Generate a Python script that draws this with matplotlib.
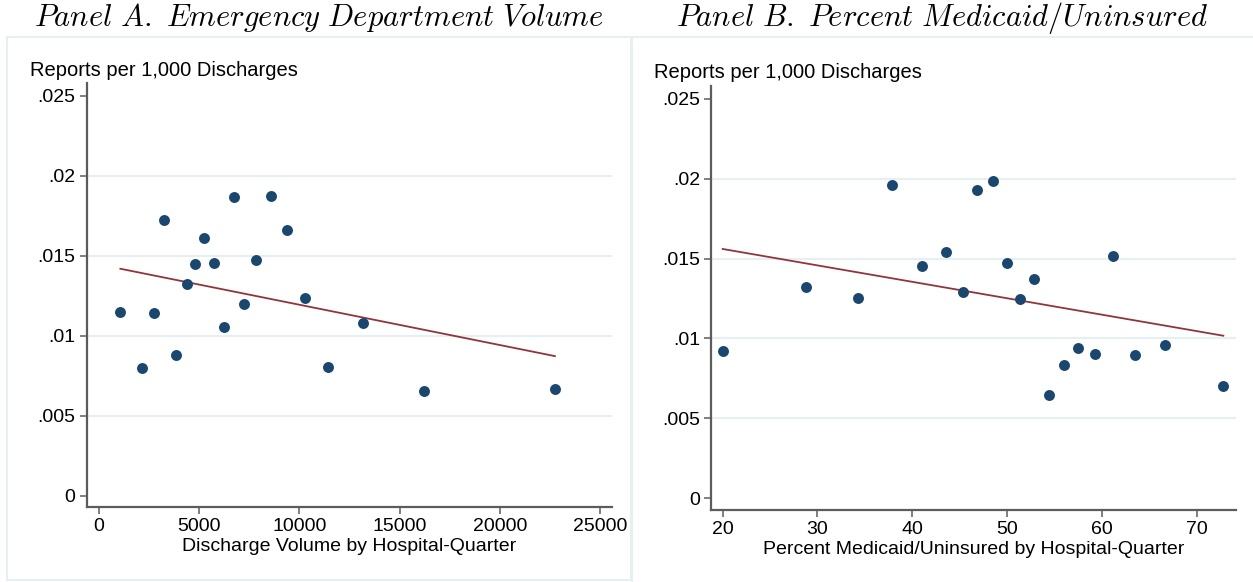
import numpy as np
import matplotlib
matplotlib.use("Agg")
import matplotlib.pyplot as plt
from matplotlib.patches import Rectangle

plt.rcParams['font.family'] = ['Liberation Sans', 'DejaVu Sans']
plt.rcParams['mathtext.fontset'] = 'cm'

# binned means, panel A: ED discharge volume
vol_x = [1067, 2150, 2733, 3267, 3833, 4367, 4800, 5233, 5717, 6250,
         6750, 7250, 7850, 8567, 9367, 10267, 11433, 13150, 16200, 22750]
vol_y = [0.01148, 0.00800, 0.01140, 0.01721, 0.00877, 0.01325, 0.01446, 0.01610, 0.01456, 0.01052,
         0.01865, 0.01198, 0.01475, 0.01871, 0.01660, 0.01235, 0.00808, 0.01077, 0.00654, 0.00669]
vol_fit = [0.01419, 0.00873]

# binned means, panel B: percent Medicaid/uninsured
mcd_x = [20.0, 28.79, 34.24, 37.86, 40.98, 43.51, 45.31, 46.85, 48.52, 49.96,
         51.37, 52.85, 54.43, 56.01, 57.49, 59.24, 61.18, 63.46, 66.66, 72.81]
mcd_y = [0.00919, 0.01321, 0.01250, 0.01960, 0.01452, 0.01538, 0.01292, 0.01931, 0.01985, 0.01473,
         0.01248, 0.01371, 0.00648, 0.00831, 0.00942, 0.00904, 0.01515, 0.00894, 0.00960, 0.00700]
mcd_fit = [0.01560, 0.01017]

y_ticks = [0, 0.005, 0.01, 0.015, 0.02, 0.025]
y_ticklabels = ['0', '.005', '.01', '.015', '.02', '.025']
vol_ticks = [0, 5000, 10000, 15000, 20000, 25000]
mcd_ticks = [20, 30, 40, 50, 60, 70]

navy = '#1a476f'
maroon = '#90353b'
grid_col = '#e8eff1'
axis_col = '#5c5c5c'

W, H = 1253, 582
fig = plt.figure(figsize=(W / 100, H / 100), dpi=100)
fig.patch.set_facecolor('white')


def px_rect(x0, y0, x1, y1):
    # pixel box (top-left origin) -> figure fraction rect
    return [x0 / W, 1 - y1 / H, (x1 - x0) / W, (y1 - y0) / H]


def panel(rect, xs, ys, fit, xticks, xlim, xlabel):
    ax = fig.add_axes(rect)
    ax.set_facecolor('white')
    ax.set_xlim(*xlim)
    ax.set_ylim(-0.00072, 0.0258)
    for g in y_ticks[1:-1]:
        ax.axhline(g, color=grid_col, lw=1.6, zorder=0)
    ax.plot([xs[0], xs[-1]], fit, color=maroon, lw=1.3, zorder=2)
    ax.scatter(xs, ys, s=62, color=navy, linewidths=0, zorder=3)
    ax.set_yticks(y_ticks)
    ax.set_yticklabels(y_ticklabels)
    ax.set_xticks(xticks)
    ax.set_xticklabels([str(t) for t in xticks])
    for s in ['top', 'right']:
        ax.spines[s].set_visible(False)
    for s in ['left', 'bottom']:
        ax.spines[s].set_color(axis_col)
        ax.spines[s].set_linewidth(1.6)
    ax.tick_params(axis='both', direction='out', length=5, width=1.1,
                   color=axis_col, labelsize=14, labelcolor='black', pad=3)
    ax.set_xlabel(xlabel, fontsize=14, labelpad=2)
    return ax


# light outer boxes round each panel
fig.patches.append(Rectangle((7 / W, 1 - 580 / H), 624 / W, 543 / H,
                             transform=fig.transFigure, fill=False,
                             edgecolor=grid_col, lw=1.5))
fig.patches.append(Rectangle((632 / W, 1 - 584 / H), 625 / W, 547 / H,
                             transform=fig.transFigure, fill=False,
                             edgecolor=grid_col, lw=1.5))

panel(px_rect(86.7, 83, 611.7, 507.3), vol_x, vol_y, vol_fit, vol_ticks,
      (-614, 25584), 'Discharge Volume by Hospital-Quarter')
panel(px_rect(711, 86, 1236, 509.7), mcd_x, mcd_y, mcd_fit, mcd_ticks,
      (18.77, 74.15), 'Percent Medicaid/Uninsured by Hospital-Quarter')

fig.text(30 / W, 1 - 70 / H, 'Reports per 1,000 Discharges', fontsize=14.5, va='center')
fig.text(654 / W, 1 - 72 / H, 'Reports per 1,000 Discharges', fontsize=14.5, va='center')

fig.text(319 / W, 1 - 18 / H, r'$Panel\ A.\ Emergency\ Department\ Volume$',
         fontsize=22, ha='center', va='center')
fig.text(942 / W, 1 - 18 / H, r'$Panel\ B.\ Percent\ Medicaid/Uninsured$',
         fontsize=22, ha='center', va='center')

fig.savefig('out.png', dpi=100, facecolor='white')
